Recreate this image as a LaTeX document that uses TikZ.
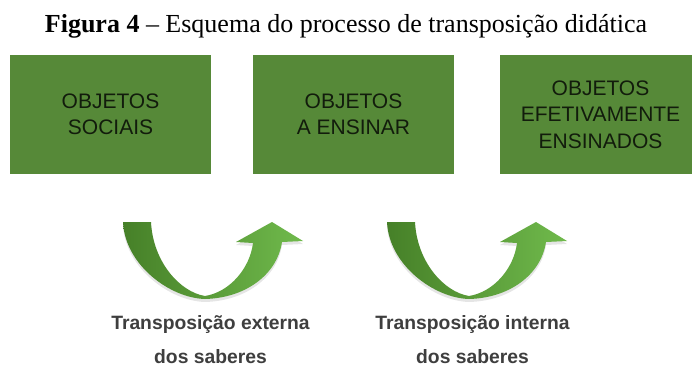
\documentclass[tikz,border=0pt]{standalone}
\usepackage{fontspec}
\setmainfont{Liberation Serif}
\newfontfamily\arialf{Liberation Sans}
\definecolor{boxgreen}{RGB}{86,137,56}
\definecolor{boxtext}{RGB}{18,28,12}
\definecolor{labelgray}{RGB}{62,62,62}
\definecolor{arrowdark}{RGB}{70,128,40}
\definecolor{arrowlight}{RGB}{112,186,76}
\begin{document}
\begin{tikzpicture}[x=1pt,y=-1pt,
  box/.style={fill=boxgreen, draw=none, minimum width=201pt, minimum height=119pt, inner sep=0pt,
    align=center, text=boxtext, font=\arialf\fontsize{21}{26.5}\selectfont},
  lbl/.style={align=center, text=labelgray, font=\arialf\bfseries\fontsize{19.3}{34}\selectfont, inner sep=0pt},
  uarrow/.style={left color=arrowdark, right color=arrowlight, draw=none}]
\useasboundingbox (0,0) rectangle (692,374);
\clip (0,0) rectangle (692,374);
\fill[white] (0,0) rectangle (692,374);

\node[font=\fontsize{26}{30}\selectfont, inner sep=0pt, anchor=base] (title) at (346,33) {\textbf{Figura 4} – Esquema do processo de transposição didática};

\node[box] (b1) at (110.5,114.5) {OBJETOS\\SOCIAIS};
\node[box] (b2) at (353.5,114.5) {OBJETOS\\A ENSINAR};
\node[box] (b3) at (600.5,114.5) {OBJETOS\\EFETIVAMENTE\\ENSINADOS};

\foreach \dx/\nm in {0/a1, 264/a2} {
  \begin{scope}[xshift=\dx]
  \fill[black, opacity=0.10] (123,225) -- (151,225)
    .. controls (153,265) and (180,295) .. (205,299)
    .. controls (230,295) and (250,271) .. (253,246)
    -- (236,245) -- (272,225) -- (303,244) -- (282,245)
    .. controls (277,278) and (245,301) .. (205,302)
    .. controls (170,301) and (125,268) .. (123,225) -- cycle;
  \path[uarrow] (123,222) -- (151,222)
    .. controls (153,262) and (180,292) .. (205,296)
    .. controls (230,292) and (250,268) .. (253,243)
    -- (236,242) -- (272,222) -- (303,241) -- (282,242)
    .. controls (277,275) and (245,298) .. (205,299)
    .. controls (170,298) and (125,265) .. (123,222) -- cycle;
  \end{scope}
}

\node[lbl] (l1) at (210.5,340) {Transposição externa\\dos saberes};
\node[lbl] (l2) at (472.5,340) {Transposição interna\\dos saberes};
\end{tikzpicture}
\end{document}
